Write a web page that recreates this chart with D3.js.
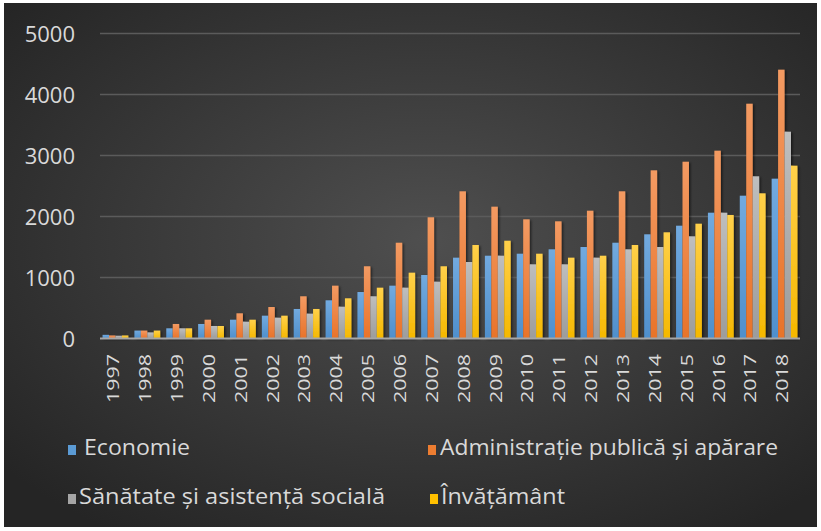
<!DOCTYPE html>
<html><head><meta charset="utf-8">
<script src="https://cdn.jsdelivr.net/npm/d3@7"></script>
<style>html,body{margin:0;padding:0;background:#fff;}svg{display:block;}</style>
</head><body>
<svg id="chart" width="821" height="531"></svg>
<script>
const years = ['1997','1998','1999','2000','2001','2002','2003','2004','2005','2006','2007','2008','2009','2010','2011','2012','2013','2014','2015','2016','2017','2018'];
const economie      = [60,130,167,238,308,374,484,626,762,866,1041,1325,1357,1390,1462,1500,1570,1708,1849,2062,2341,2620];
const administratie = [50,130,238,308,413,516,692,866,1184,1570,1987,2413,2161,1954,1921,2095,2413,2757,2898,3079,3849,4407];
const sanatate      = [45,100,167,205,275,341,407,521,692,833,931,1254,1357,1216,1216,1325,1462,1500,1675,2062,2659,3390];
const invatamant    = [50,130,167,205,308,374,484,659,833,1079,1184,1533,1603,1390,1325,1357,1533,1741,1882,2025,2380,2833];
const seriesNames = ['Economie','Administrație publică și apărare','Sănătate și asistență socială','Învățământ'];
const yTicks = [0,1000,2000,3000,4000,5000];

const seriesData = [economie, administratie, sanatate, invatamant];
const colors = [
  {top:'#72aadf', bot:'#4f8fcc'},
  {top:'#f39a62', bot:'#e8732a'},
  {top:'#bebebe', bot:'#9c9c9c'},
  {top:'#ffd04a', bot:'#f5b800'}
];
const legendColors = ['#5b9bd5','#ed7d31','#a5a5a5','#ffc000'];

const svg = d3.select('#chart');
const W = 821, H = 531;
const defs = svg.append('defs');

const bg = defs.append('radialGradient').attr('id','bg').attr('cx','52%').attr('cy','45%').attr('r','68%');
bg.append('stop').attr('offset','0%').attr('stop-color','#4f4f4f');
bg.append('stop').attr('offset','100%').attr('stop-color','#252525');

colors.forEach((c,i)=>{
  const g = defs.append('linearGradient').attr('id','g'+i).attr('x1',0).attr('y1',0).attr('x2',0).attr('y2',1);
  g.append('stop').attr('offset','0%').attr('stop-color',c.top);
  g.append('stop').attr('offset','100%').attr('stop-color',c.bot);
});
const f = defs.append('filter').attr('id','sh').attr('x','-50%').attr('y','-10%').attr('width','200%').attr('height','120%');
f.append('feDropShadow').attr('dx',1.5).attr('dy',1).attr('stdDeviation',1.3).attr('flood-color','#000').attr('flood-opacity',0.55);

svg.append('rect').attr('x',0).attr('y',0).attr('width',W).attr('height',H).attr('fill','#ffffff');
svg.append('rect').attr('x',4).attr('y',3).attr('width',W-8).attr('height',H-7).attr('fill','url(#bg)');

const x = d3.scaleBand().domain(years).range([100,800]).paddingInner(0.19).paddingOuter(0.08);
const xs = d3.scaleBand().domain(d3.range(4)).range([0,x.bandwidth()]);
const y = d3.scaleLinear().domain([0,5000]).range([338.5,33.5]);

// gridlines
svg.append('g').selectAll('line').data(yTicks.filter(d=>d>0)).join('line')
  .attr('x1',100).attr('x2',800).attr('y1',d=>y(d)).attr('y2',d=>y(d))
  .attr('stroke','#5b5b5b').attr('stroke-width',1.5);

// y axis labels
const yAxis = d3.axisLeft(y).tickValues(yTicks).tickFormat(d3.format('d')).tickSize(0).tickPadding(0);
const ya = svg.append('g').attr('transform','translate(75,0)').call(yAxis);
ya.select('.domain').remove();
ya.selectAll('text').attr('fill','#d9d9d9').attr('font-family','Open Sans').attr('font-size',22).attr('dy','0.35em');

// bars
const gBars = svg.append('g').attr('filter','url(#sh)');
seriesData.forEach((arr,si)=>{
  gBars.append('g').selectAll('rect').data(arr.map((v,i)=>({year:years[i],v}))).join('rect')
    .attr('x',d=>x(d.year)+xs(si))
    .attr('width',xs.bandwidth())
    .attr('y',d=>y(d.v))
    .attr('height',d=>y(0)-y(d.v))
    .attr('fill','url(#g'+si+')');
});

// baseline axis
svg.append('line').attr('x1',100).attr('x2',800).attr('y1',y(0)).attr('y2',y(0))
  .attr('stroke','#a6a6a6').attr('stroke-width',2);

// x labels
const xAxis = d3.axisBottom(x).tickSize(0).tickPadding(0);
const xa = svg.append('g').call(xAxis);
xa.select('.domain').remove();
xa.selectAll('.tick').attr('transform',d=>`translate(${x(d)+x.bandwidth()/2-2},354)`);
xa.selectAll('text')
  .attr('fill','#d9d9d9').attr('font-family','Open Sans').attr('font-size',16)
  .attr('transform','rotate(-90)').attr('text-anchor','end').attr('x',0).attr('y',0).attr('dy','0.36em')
  .attr('textLength',49).attr('lengthAdjust','spacingAndGlyphs');

// legend
const legendPos = [
  {sx:68, tx:84, y:448, len:106},
  {sx:428, tx:440, y:448, len:338},
  {sx:68, tx:79, y:497, len:306},
  {sx:430, tx:441, y:497, len:124}
];
const lg = svg.append('g');
seriesNames.forEach((name,i)=>{
  const p = legendPos[i];
  lg.append('rect').attr('x',p.sx).attr('y',p.y-3).attr('width',8).attr('height',10).attr('fill',legendColors[i]);
  lg.append('text').attr('x',p.tx).attr('y',p.y).attr('dy','0.35em')
    .attr('fill','#d9d9d9').attr('font-family','Open Sans').attr('font-size',21)
    .attr('textLength',p.len).attr('lengthAdjust','spacingAndGlyphs').text(name);
});
</script>
</body></html>
